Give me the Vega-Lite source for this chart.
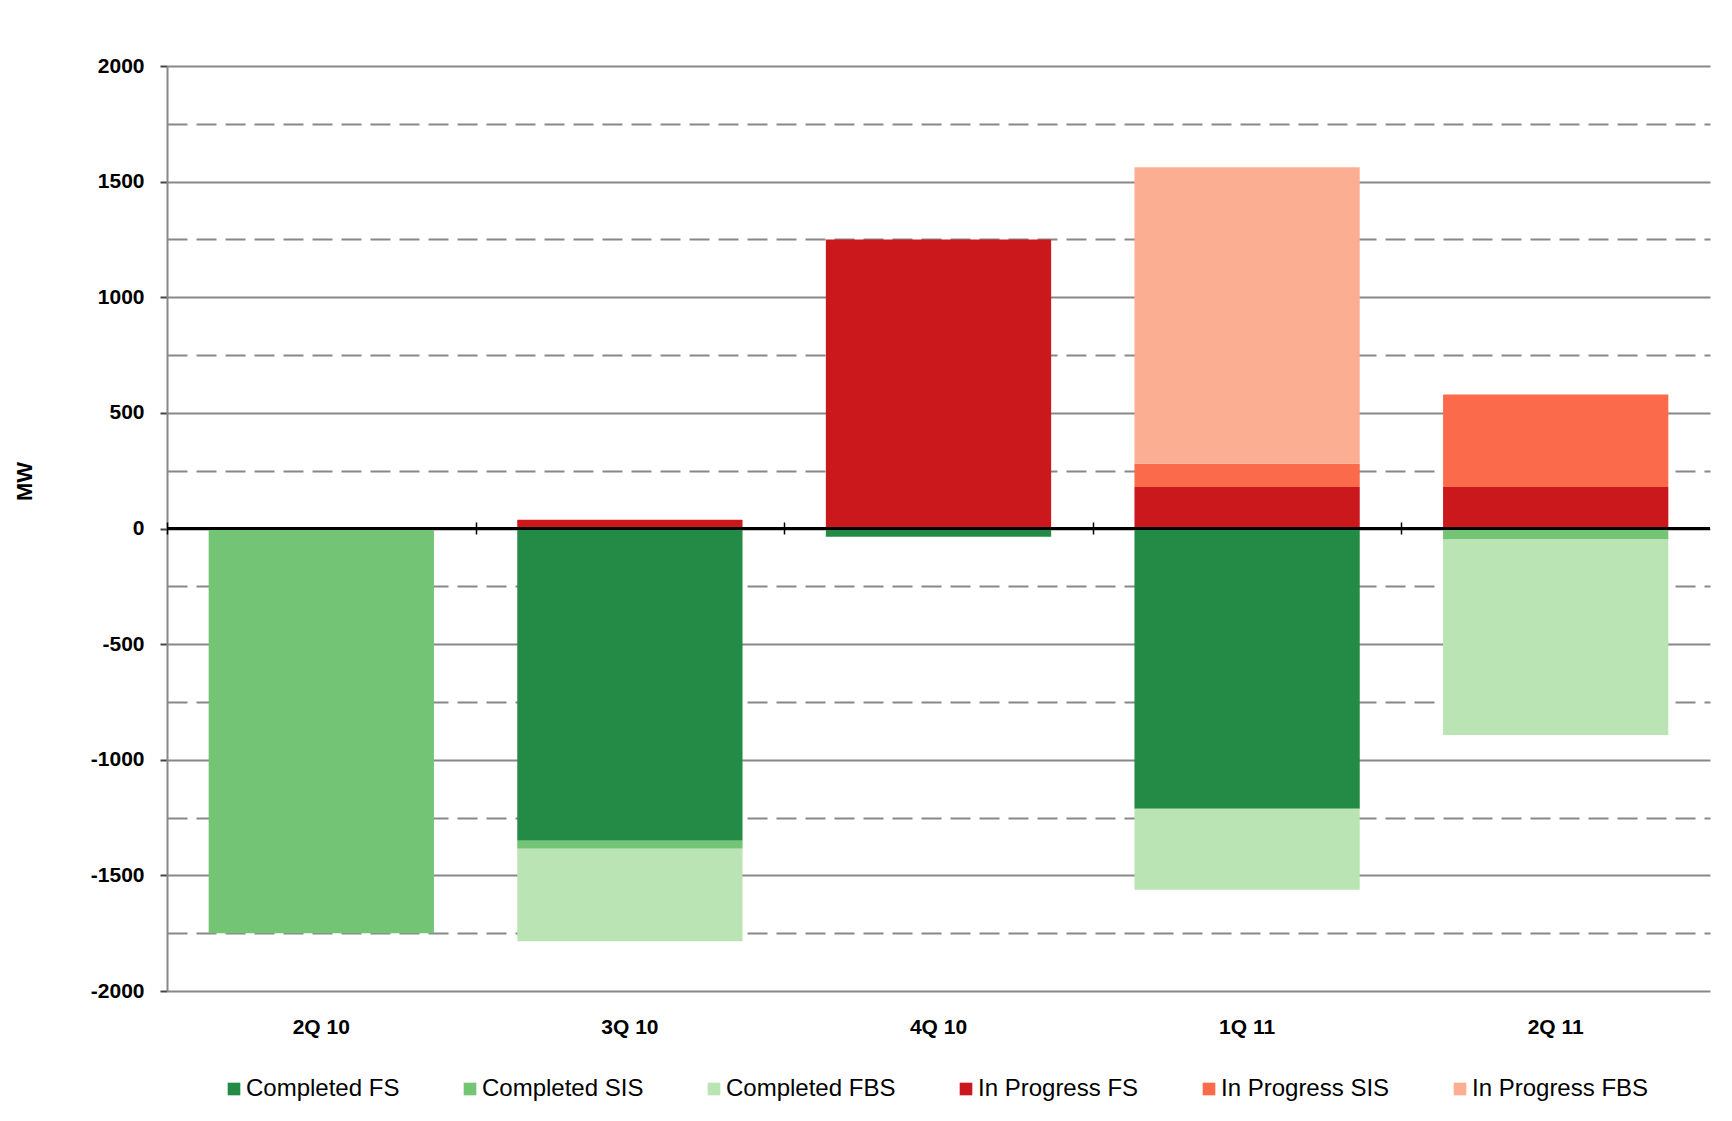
{
  "$schema": "https://vega.github.io/schema/vega-lite/v6.json",
  "autosize": {"type": "none"},
  "width": 1543,
  "height": 925,
  "padding": {"left": 167, "top": 66, "right": 22, "bottom": 130},
  "background": "white",
  "config": {
    "view": {"stroke": null},
    "font": "Liberation Sans"
  },
  "data": {
    "values": [
      {"quarter": "2Q 10", "series": "Completed SIS", "rank": 1, "mw": -1750},
      {"quarter": "3Q 10", "series": "Completed FS", "rank": 0, "mw": -1350},
      {"quarter": "3Q 10", "series": "Completed SIS", "rank": 1, "mw": -35},
      {"quarter": "3Q 10", "series": "Completed FBS", "rank": 2, "mw": -400},
      {"quarter": "3Q 10", "series": "In Progress FS", "rank": 3, "mw": 38},
      {"quarter": "4Q 10", "series": "Completed FS", "rank": 0, "mw": -36},
      {"quarter": "4Q 10", "series": "In Progress FS", "rank": 3, "mw": 1250},
      {"quarter": "1Q 11", "series": "Completed FS", "rank": 0, "mw": -1212},
      {"quarter": "1Q 11", "series": "Completed FBS", "rank": 2, "mw": -350},
      {"quarter": "1Q 11", "series": "In Progress FS", "rank": 3, "mw": 180},
      {"quarter": "1Q 11", "series": "In Progress SIS", "rank": 4, "mw": 100},
      {"quarter": "1Q 11", "series": "In Progress FBS", "rank": 5, "mw": 1282},
      {"quarter": "2Q 11", "series": "Completed SIS", "rank": 1, "mw": -48},
      {"quarter": "2Q 11", "series": "Completed FBS", "rank": 2, "mw": -845},
      {"quarter": "2Q 11", "series": "In Progress FS", "rank": 3, "mw": 180},
      {"quarter": "2Q 11", "series": "In Progress SIS", "rank": 4, "mw": 400}
    ]
  },
  "resolve": {"axis": {"x": "independent"}},
  "layer": [
    {
      "mark": {"type": "bar"},
      "encoding": {
        "x": {
          "field": "quarter",
          "type": "nominal",
          "sort": ["2Q 10", "3Q 10", "4Q 10", "1Q 11", "2Q 11"],
          "scale": {"paddingInner": 0.27, "paddingOuter": 0.135},
          "axis": {
            "orient": "bottom",
            "title": null,
            "domain": false,
            "ticks": false,
            "grid": false,
            "labelAngle": 0,
            "labelFont": "Liberation Sans",
            "labelFontWeight": "bold",
            "labelFontSize": 21,
            "labelColor": "#000000",
            "labelPadding": 36,
            "labelBaseline": "middle"
          }
        },
        "y": {
          "field": "mw",
          "type": "quantitative",
          "stack": "zero",
          "scale": {"domain": [-2000, 2000], "nice": false, "zero": false},
          "axis": {
            "title": "MW",
            "titleFont": "Liberation Sans",
            "titleFontSize": 22,
            "titleFontWeight": "bold",
            "titleColor": "#000000",
            "titleX": -143,
            "titleY": 415,
            "titleAlign": "center",
            "titleBaseline": "middle",
            "titleAngle": -90,
            "values": [-2000, -1750, -1500, -1250, -1000, -750, -500, -250, 0, 250, 500, 750, 1000, 1250, 1500, 1750, 2000],
            "labelExpr": "datum.value % 500 === 0 ? '' + datum.value : ''",
            "labelFont": "Liberation Sans",
            "labelFontWeight": "bold",
            "labelFontSize": 21,
            "labelColor": "#000000",
            "labelPadding": 16,
            "domainColor": "#888888",
            "domainWidth": 2,
            "tickSize": 7,
            "tickWidth": 2,
            "tickColor": {"condition": {"test": "datum.value % 500 !== 0", "value": "rgba(0,0,0,0)"}, "value": "#444444"},
            "grid": true,
            "gridColor": "#888888",
            "gridWidth": 2,
            "gridOpacity": 1,
            "gridDash": {"condition": {"test": "datum.value % 500 !== 0", "value": [20, 9]}, "value": []}
          }
        },
        "color": {
          "field": "series",
          "type": "nominal",
          "sort": ["Completed FS", "Completed SIS", "Completed FBS", "In Progress FS", "In Progress SIS", "In Progress FBS"],
          "scale": {
            "domain": ["Completed FS", "Completed SIS", "Completed FBS", "In Progress FS", "In Progress SIS", "In Progress FBS"],
            "range": ["#238b45", "#74c476", "#bae4b3", "#cb181d", "#fb6a4a", "#fbae91"]
          },
          "legend": {
            "title": null,
            "orient": "none",
            "direction": "horizontal",
            "legendX": 55,
            "legendY": 1011,
            "padding": 0,
            "columns": 6,
            "symbolType": "square",
            "symbolSize": 160,
            "symbolStrokeWidth": 0,
            "symbolOpacity": 1,
            "labelFont": "Liberation Sans",
            "labelFontSize": 24,
            "labelColor": "#000000",
            "labelOffset": 0,
            "labelLimit": 300,
            "columnPadding": 58
          }
        },
        "order": {"field": "rank", "type": "quantitative"}
      }
    },
    {
      "mark": {"type": "rule", "color": "#000000", "strokeWidth": 1.5},
      "encoding": {"y": {"datum": 0, "type": "quantitative"}}
    },
    {
      "mark": {"type": "bar", "opacity": 0},
      "encoding": {
        "x": {
          "field": "quarter",
          "type": "nominal",
          "sort": ["2Q 10", "3Q 10", "4Q 10", "1Q 11", "2Q 11"],
          "axis": {
            "orient": "bottom",
            "title": null,
            "offset": -469,
            "labels": false,
            "grid": false,
            "domain": false,
            "ticks": true,
            "bandPosition": 0,
            "tickOffset": -41.66,
            "tickColor": "#000000",
            "tickWidth": 1.5,
            "tickSize": 12,
            "zindex": 1
          }
        },
        "y": {"field": "mw", "type": "quantitative", "stack": "zero"}
      }
    }
  ]
}
